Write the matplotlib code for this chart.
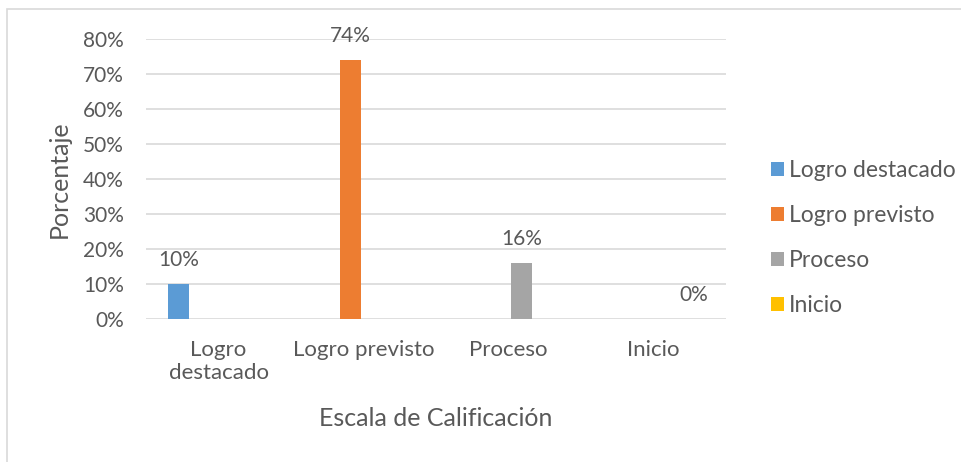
import numpy as np
import matplotlib.pyplot as plt
from matplotlib.patches import Rectangle

plt.rcParams['font.family'] = ['Lato', 'DejaVu Sans']

categories = ["Logro\ndestacado", "Logro previsto", "Proceso", "Inicio"]
series = ["Logro destacado", "Logro previsto", "Proceso", "Inicio"]
# each series only has a value in its own category
values = [
    [0.10, 0, 0, 0],
    [0, 0.74, 0, 0],
    [0, 0, 0.16, 0],
    [0, 0, 0, 0.00],
]
colors = ["#5B9BD5", "#ED7D31", "#A5A5A5", "#FFC000"]
text_color = "#595959"
grid_color = "#D9D9D9"

fig = plt.figure(figsize=(9.62, 4.62), dpi=100)
ax = fig.add_axes([146 / 962, 1 - 319 / 462, 580 / 962, 280 / 462])

# light frame around the chart area
fig.patches.append(Rectangle((7 / 962, -0.1), 1.1, (453 / 462) + 0.1,
                             transform=fig.transFigure, fill=False,
                             edgecolor=grid_color, lw=1.2))

x = np.arange(len(categories))
slot = 0.184
width = 0.145
for i, (name, vals, c) in enumerate(zip(series, values, colors)):
    pos = x + (i - 1.5) * slot
    ax.bar(pos, vals, width=width, color=c, label=name, zorder=3)
    # data label only where the series has its value
    ax.annotate(f"{vals[i]:.0%}", (pos[i], vals[i]), xytext=(0, 10),
                textcoords="offset points", ha="center", va="bottom",
                fontsize=15, color=text_color)

ax.set_xlim(-0.5, 3.5)
ax.set_ylim(0, 0.8)
ax.set_yticks(np.arange(0, 0.81, 0.1))
ax.set_yticklabels([f"{int(round(v * 100))}%" for v in np.arange(0, 0.81, 0.1)])
ax.set_xticks(x)
ax.set_xticklabels(categories, linespacing=1.2)
ax.tick_params(axis="y", length=0, pad=16, labelsize=15, labelcolor=text_color)
ax.tick_params(axis="x", length=0, pad=15, labelsize=16, labelcolor=text_color)
ax.yaxis.grid(True, color=grid_color, lw=1.2, zorder=0)
ax.set_axisbelow(True)
for s in ax.spines.values():
    s.set_visible(False)

ax.set_ylabel("Porcentaje", fontsize=18, color=text_color, labelpad=9)
ax.set_xlabel("Escala de Calificación", fontsize=18, color=text_color, labelpad=17)

fig.legend(loc="center left", bbox_to_anchor=(760 / 962, 1 - 238 / 462),
           frameon=False, fontsize=16.5, labelcolor=text_color,
           handlelength=0.55, handleheight=0.55, handletextpad=0.2,
           labelspacing=1.05, borderpad=0)

fig.savefig("out.png", dpi=100)
